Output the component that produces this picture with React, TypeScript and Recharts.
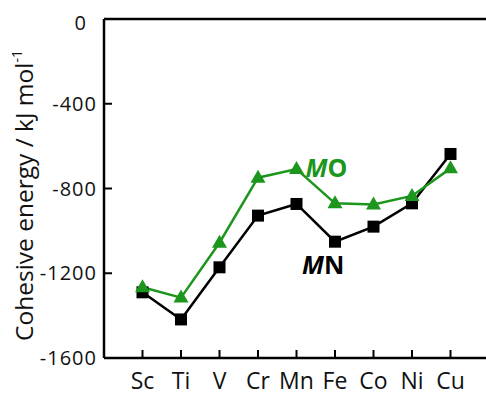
import { Line, LineChart, XAxis, YAxis, ReferenceLine } from "recharts";

const elements = ["Sc", "Ti", "V", "Cr", "Mn", "Fe", "Co", "Ni", "Cu"];
const mnValues = [-1290, -1418, -1172, -928, -873, -1051, -980, -870, -637];
const moValues = [-1266, -1315, -1056, -749, -708, -870, -875, -835, -705];
const yTicks = [0, -400, -800, -1200, -1600];

const GREEN = "#1c961c";
const FONT = "'Open Sans', 'Noto Sans', sans-serif";

const data = elements.map((name, i) => ({ pos: i + 1, name, mn: mnValues[i], mo: moValues[i] }));

function XTick({ x, y, payload }: any) {
  return (
    <g>
      <line x1={x} x2={x} y1={y} y2={y - 8} stroke="#000" strokeWidth={2} />
      <text x={x} y={y + 31} textAnchor="middle" fontSize={23} fontFamily={FONT} fill="#111">
        {elements[payload.value - 1]}
      </text>
    </g>
  );
}

function YTick({ x, y, payload }: any) {
  const isZero = payload.value === 0;
  return (
    <g>
      {!isZero && <line x1={x} x2={x + 8} y1={y} y2={y} stroke="#000" strokeWidth={2} />}
      <text
        x={isZero ? x - 17 : x - 7}
        y={isZero ? y + 4 : y}
        dy="0.36em"
        textAnchor="end"
        fontSize={20}
        letterSpacing={1}
        fontFamily={FONT}
        fill="#111"
      >
        {payload.value}
      </text>
    </g>
  );
}

function YTitle({ viewBox }: any) {
  const cx = 24;
  const cy = viewBox.y + viewBox.height / 2 + 7;
  return (
    <text
      transform={`translate(${cx},${cy}) rotate(-90)`}
      textAnchor="middle"
      dy="0.36em"
      fontSize={24.5}
      fontFamily={FONT}
      fill="#111"
    >
      Cohesive energy / kJ mol
      <tspan fontSize={14} dy="-0.75em">-1</tspan>
    </text>
  );
}

function Square({ cx, cy, index }: any) {
  return <rect key={`sq-${index}`} x={cx - 6} y={cy - 6} width={12} height={12} fill="#000" />;
}

function Triangle({ cx, cy, index }: any) {
  return (
    <path
      key={`tr-${index}`}
      d={`M${cx},${cy - 8} L${cx + 7.5},${cy + 5} L${cx - 7.5},${cy + 5} Z`}
      fill={GREEN}
    />
  );
}

function MoLabel({ x, y, index }: any) {
  if (index !== 4) return null;
  return (
    <text key="mo-label" x={x + 9} y={y + 8} fontSize={25} fontWeight="bold" fontFamily={FONT} fill={GREEN}>
      <tspan fontStyle="italic">M</tspan>O
    </text>
  );
}

function MnLabel({ x, y, index }: any) {
  if (index !== 5) return null;
  return (
    <text key="mn-label" x={x - 33} y={y + 32} fontSize={25} fontWeight="bold" fontFamily={FONT} fill="#000">
      <tspan fontStyle="italic">M</tspan>N
    </text>
  );
}

export default function App() {
  return (
    <div style={{ position: "absolute", left: 0, top: 0, width: 486, height: 396, overflow: "hidden", background: "#fff" }}>
      <LineChart width={489} height={396} data={data} margin={{ top: 19, right: 0, bottom: 0, left: 0 }}>
        <XAxis
          type="number"
          dataKey="pos"
          domain={[0, 10]}
          ticks={[1, 2, 3, 4, 5, 6, 7, 8, 9]}
          height={38}
          tickSize={0}
          tickMargin={0}
          tickLine={false}
          axisLine={{ stroke: "#000", strokeWidth: 2.5 }}
          tick={<XTick />}
          interval={0}
        />
        <YAxis
          type="number"
          domain={[-1600, 0]}
          ticks={yTicks}
          width={104}
          tickSize={0}
          tickMargin={0}
          tickLine={false}
          axisLine={{ stroke: "#000", strokeWidth: 2.5 }}
          tick={<YTick />}
          interval={0}
          label={{ content: <YTitle /> }}
        />
        <ReferenceLine y={0} stroke="#000" strokeWidth={2.5} />
        <Line
          type="linear"
          dataKey="mn"
          stroke="#000"
          strokeWidth={2.5}
          dot={<Square />}
          isAnimationActive={false}
          label={<MnLabel />}
        />
        <Line
          type="linear"
          dataKey="mo"
          stroke={GREEN}
          strokeWidth={2.5}
          dot={<Triangle />}
          isAnimationActive={false}
          label={<MoLabel />}
        />
      </LineChart>
    </div>
  );
}
